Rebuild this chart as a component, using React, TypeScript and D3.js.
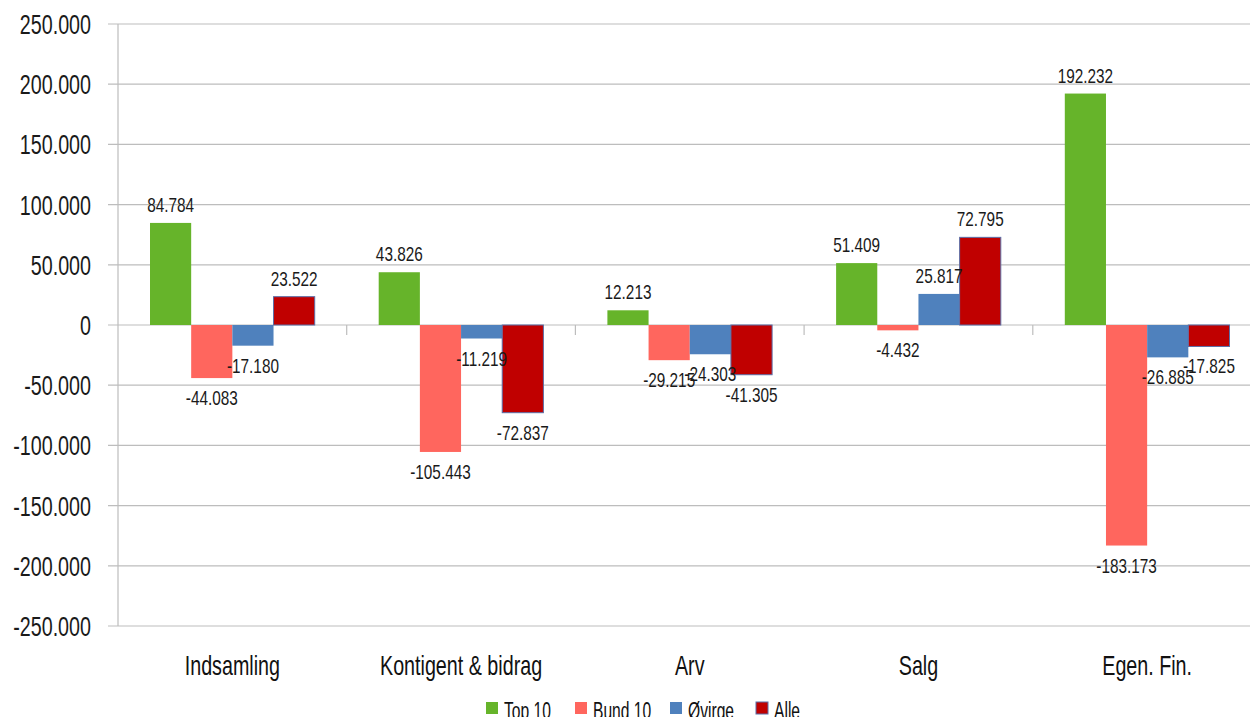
import React from "react";
import * as d3 from "d3";

const categories = ["Indsamling", "Kontigent & bidrag", "Arv", "Salg", "Egen. Fin."];
const seriesNames = ["Top 10", "Bund 10", "Øvirge", "Alle"];
const top10 = [84784, 43826, 12213, 51409, 192232];
const bund10 = [-44083, -105443, -29215, -4432, -183173];
const oevrige = [-17180, -11219, -24303, 25817, -26885];
const alle = [23522, -72837, -41305, 72795, -17825];
const seriesValues = [top10, bund10, oevrige, alle];
const colors = ["#66b42a", "#ff665e", "#4f81bd", "#c00000"];
const strokes = ["none", "none", "none", "#5a6fa8"];
const yTicks = [250000, 200000, 150000, 100000, 50000, 0, -50000, -100000, -150000, -200000, -250000];

const FONT = "'Liberation Sans', Arial, sans-serif";

const fmt = (v: number) => d3.format(",")(v).replace(/,/g, ".").replace("−", "-");

function NText(props: { x: number; y: number; anchor?: string; size: number; sx?: number; fill?: string; children: React.ReactNode }) {
  const { x, y, anchor = "start", size, sx = 0.73, fill = "#1a1a1a", children } = props;
  return (
    <text transform={`translate(${x},${y}) scale(${sx},1)`} textAnchor={anchor} fontSize={size} fill={fill}>
      {children}
    </text>
  );
}

export default function App() {
  const W = 1250, H = 717;
  const x0 = 118, bandW = 228.7;
  const x = d3.scaleBand<string>().domain(categories).range([x0, x0 + bandW * 5]).paddingInner(0).paddingOuter(0);
  const xs = d3.scaleBand<number>().domain([0, 1, 2, 3]).range([32, bandW - 32]).padding(0);
  const y = d3.scaleLinear().domain([-250000, 250000]).range([626, 24]);
  const legendX = [486, 575, 670, 756];

  return (
    <svg width={W} height={H} style={{ position: "absolute", left: 0, top: 0, background: "#fff" }} fontFamily={FONT}>
      {yTicks.map((t) => (
        <g key={t}>
          <line x1={108} x2={W} y1={y(t)} y2={y(t)} stroke="#bdbdbd" strokeWidth={1.2} />
          <NText x={91} y={y(t) + 10} anchor="end" size={27}>{fmt(t)}</NText>
        </g>
      ))}
      <line x1={x0} x2={x0} y1={y(250000)} y2={y(-250000)} stroke="#bdbdbd" strokeWidth={1.2} />
      {d3.range(1, 6).map((i) => (
        <line key={i} x1={x0 + bandW * i} x2={x0 + bandW * i} y1={y(0)} y2={y(0) + 10} stroke="#bdbdbd" strokeWidth={1.2} />
      ))}
      {categories.map((c, ci) => (
        <g key={c}>
          {seriesValues.map((vals, si) => {
            const v = vals[ci];
            const bx = (x(c) as number) + (xs(si) as number);
            return (
              <rect key={si} x={bx} width={xs.bandwidth()} y={Math.min(y(v), y(0))} height={Math.abs(y(v) - y(0))}
                fill={colors[si]} stroke={strokes[si]} strokeWidth={1} />
            );
          })}
        </g>
      ))}
      {categories.map((c, ci) => (
        <g key={c + "l"}>
          {seriesValues.map((vals, si) => {
            const v = vals[ci];
            const cx = (x(c) as number) + (xs(si) as number) + xs.bandwidth() / 2;
            const ty = v >= 0 ? y(v) - 11 : y(v) + 27;
            return (
              <NText key={si} x={cx} y={ty} anchor="middle" size={21}>{fmt(v)}</NText>
            );
          })}
          <NText x={(x(c) as number) + bandW / 2} y={675} anchor="middle" size={27} fill="#111">{c}</NText>
        </g>
      ))}
      {seriesNames.map((n, i) => (
        <g key={n}>
          <rect x={legendX[i]} y={702} width={12} height={12} fill={colors[i]} stroke={i === 3 ? "#5a6fa8" : "none"} />
          <NText x={legendX[i] + 18} y={719} size={23} sx={0.68} fill="#111">{n}</NText>
        </g>
      ))}
    </svg>
  );
}
